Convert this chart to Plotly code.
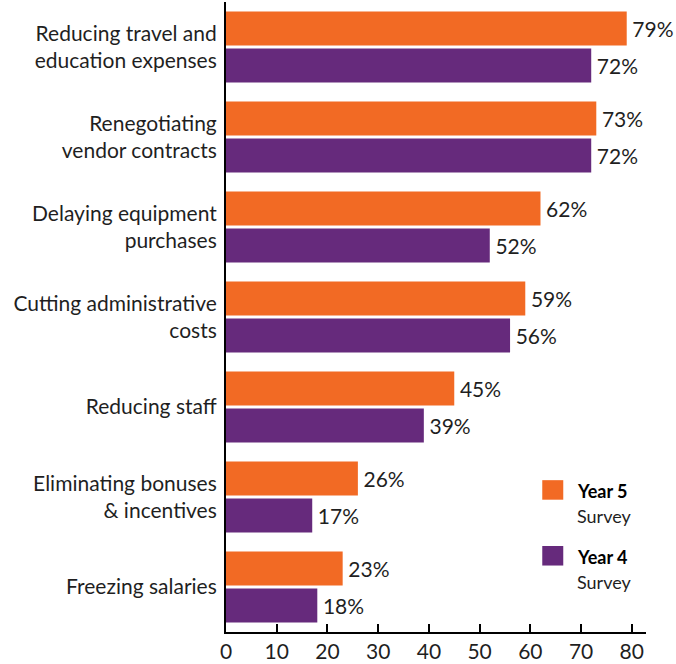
import plotly.graph_objects as go

# Cost-cutting measures, share of respondents (%)
categories = [
    "Reducing travel and<br>education expenses",
    "Renegotiating<br>vendor contracts",
    "Delaying equipment<br>purchases",
    "Cutting administrative<br>costs",
    "Reducing staff",
    "Eliminating bonuses<br>& incentives",
    "Freezing salaries",
]
year5 = [79, 73, 62, 59, 45, 26, 23]
year4 = [72, 72, 52, 56, 39, 17, 18]
x_ticks = [0, 10, 20, 30, 40, 50, 60, 70, 80]

ORANGE = "#F26A24"
PURPLE = "#662A7C"
FONT = "Lato"
TEXT = "#1f1f1f"

fig = go.Figure()
for name, vals, color in [("Year 5", year5, ORANGE), ("Year 4", year4, PURPLE)]:
    fig.add_trace(go.Bar(
        name=name, y=categories, x=vals, orientation="h",
        marker=dict(color=color, line=dict(width=0)),
        text=[f"\u2009{v}%" for v in vals], textposition="outside",
        textfont=dict(family=FONT, size=21, color=TEXT),
        cliponaxis=False,
    ))

fig.update_layout(
    width=676, height=664,
    margin=dict(l=226, r=30, t=2, b=32),
    paper_bgcolor="white", plot_bgcolor="white",
    barmode="group", bargap=0.18, bargroupgap=0.08,
    showlegend=False,
    font=dict(family=FONT, size=21, color=TEXT),
    uniformtext=dict(minsize=21, mode="show"),
    xaxis=dict(
        range=[0, 82.8], tickvals=x_ticks, showgrid=False, zeroline=False,
        showline=True, linecolor="black", linewidth=2,
        ticks="inside", ticklen=8, tickwidth=1.5, tickcolor="black",
        tickfont=dict(family=FONT, size=21, color=TEXT),
    ),
    yaxis=dict(
        autorange="reversed", showgrid=False, zeroline=False,
        showline=True, linecolor="black", linewidth=2, ticks="",
        ticklabelstandoff=3,
        tickfont=dict(family=FONT, size=21, color=TEXT),
    ),
)

# Legend swatches and captions
legend_items = [("Year 5", ORANGE, 0.241), ("Year 4", PURPLE, 0.1365)]
for label, color, top in legend_items:
    fig.add_shape(type="rect", xref="paper", yref="paper",
                  x0=0.753, x1=0.803, y0=top - 0.031, y1=top,
                  fillcolor=color, line=dict(width=0))
    fig.add_annotation(xref="paper", yref="paper", x=0.830, y=top - 0.017,
                       text=f"<b>{label}</b>", showarrow=False,
                       xanchor="left", yanchor="middle",
                       font=dict(family=FONT, size=18, color="black"))
    fig.add_annotation(xref="paper", yref="paper", x=0.830, y=top - 0.057,
                       text="Survey", showarrow=False,
                       xanchor="left", yanchor="middle",
                       font=dict(family=FONT, size=18, color=TEXT))

fig.write_html("out.html")
